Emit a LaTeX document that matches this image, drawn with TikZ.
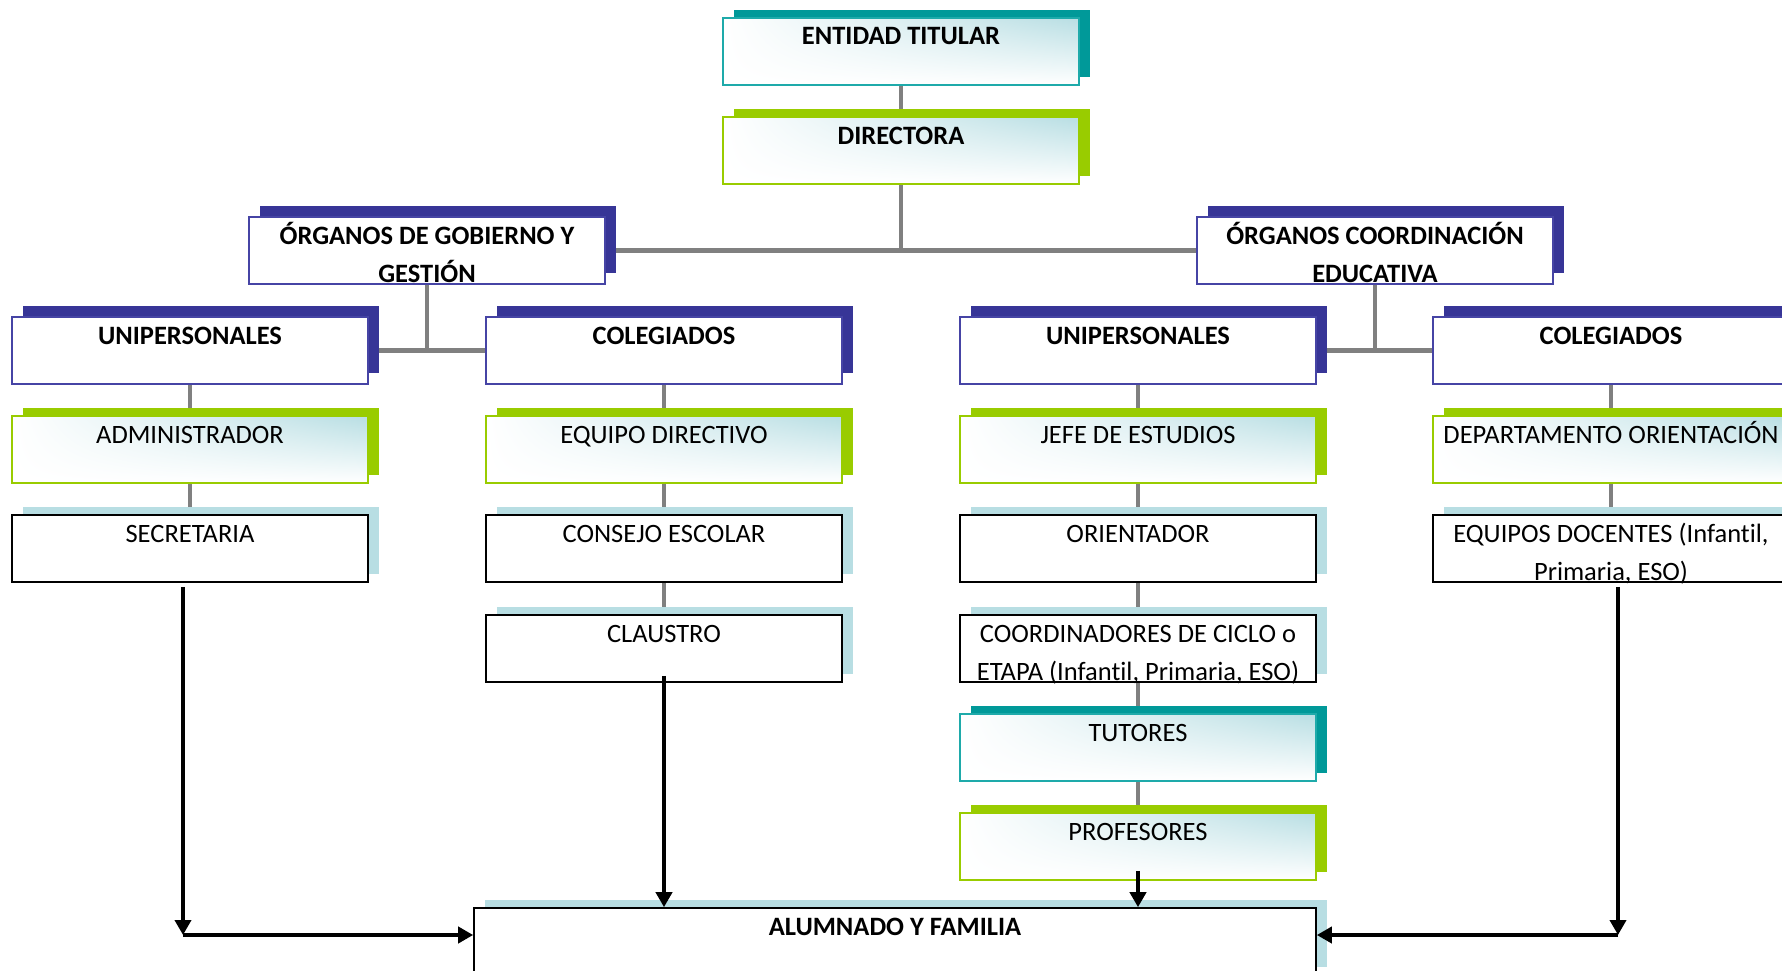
\documentclass[tikz,border=0pt]{standalone}
\usepackage{fontspec}
\setmainfont{Carlito}[Ligatures=NoCommon]
\usetikzlibrary{arrows.meta,shadows,shadings,calc}
\definecolor{navy}{RGB}{55,53,151}
\definecolor{navyb}{RGB}{70,68,165}
\definecolor{grn}{RGB}{153,204,0}
\definecolor{tealc}{RGB}{0,153,153}
\definecolor{tealb}{RGB}{30,170,170}
\definecolor{lb}{RGB}{184,222,227}
\definecolor{gline}{RGB}{128,128,128}
\pgfdeclarelayer{bg}\pgfsetlayers{bg,main}
\newcommand\twol[2]{\begin{tabular}[t]{@{}c@{}}#1\\#2\end{tabular}}
\tikzset{
  obx/.style={rectangle, minimum width=356pt, minimum height=67pt, inner sep=0pt, line width=1.6pt},
  navybox/.style={obx, draw=navyb, fill=white,
    general shadow={shadow xshift=11pt, shadow yshift=11pt, fill=navy}},
  greenbox/.style={obx, draw=grn, upper left=white, upper right=lb, lower left=white, lower right=white,
    general shadow={shadow xshift=11pt, shadow yshift=8pt, fill=grn}},
  tealbox/.style={obx, draw=tealb, upper left=white, upper right=lb, lower left=white, lower right=white,
    general shadow={shadow xshift=11pt, shadow yshift=8pt, fill=tealc}},
  lbbox/.style={obx, draw=black, fill=white,
    general shadow={shadow xshift=11pt, shadow yshift=8pt, fill=lb}},
  txt/.style={anchor=base, inner sep=0pt, font=\fontsize{26.5}{38}\selectfont},
  btxt/.style={txt, font=\fontsize{26.5}{38}\selectfont\bfseries},
  conn/.style={draw=gline, line width=4.6pt},
  arr/.style={draw=black, line width=4.6pt, -{Triangle[width=16pt,length=15pt]}}
}
\begin{document}
\begin{tikzpicture}[x=1pt,y=-1pt]
\path[use as bounding box, clip] (0,0) rectangle (1782,971);
% boxes
\node[tealbox]  (ent) at (901,51.5) {};
\node[greenbox] (dir) at (901,150.5) {};
\node[navybox]  (og)  at (427,250.5) {};
\node[navybox]  (oc)  at (1375,250.5) {};
\node[navybox]  (u1)  at (190,350.5) {};
\node[navybox]  (c1)  at (664,350.5) {};
\node[navybox]  (u2)  at (1138,350.5) {};
\node[navybox]  (c2)  at (1611,350.5) {};
\node[greenbox] (adm) at (190,449.5) {};
\node[greenbox] (eqd) at (664,449.5) {};
\node[greenbox] (jef) at (1138,449.5) {};
\node[greenbox] (dep) at (1611,449.5) {};
\node[lbbox]    (sec) at (190,548.5) {};
\node[lbbox]    (con) at (664,548.5) {};
\node[lbbox]    (ori) at (1138,548.5) {};
\node[lbbox]    (edo) at (1611,548.5) {};
\node[lbbox]    (cla) at (664,648.5) {};
\node[lbbox]    (coo) at (1138,648.5) {};
\node[tealbox]  (tut) at (1138,747.5) {};
\node[greenbox] (pro) at (1138,846.5) {};
\node[lbbox, minimum width=842pt] (alum) at (895,941.5) {};
% texts
\node[btxt] (ent-t) at (901,45) {ENTIDAD TITULAR};
\node[btxt] (dir-t) at (901,144) {DIRECTORA};
\node[btxt] (og-t) at (427,244) {\twol{ÓRGANOS DE GOBIERNO Y}{GESTIÓN}};
\node[btxt] (oc-t) at (1375,244) {\twol{ÓRGANOS COORDINACIÓN}{EDUCATIVA}};
\node[btxt] (u1-t) at (190,344) {UNIPERSONALES};
\node[btxt] (c1-t) at (664,344) {COLEGIADOS};
\node[btxt] (u2-t) at (1138,344) {UNIPERSONALES};
\node[btxt] (c2-t) at (1611,344) {COLEGIADOS};
\node[txt] (adm-t) at (190,443) {ADMINISTRADOR};
\node[txt] (eqd-t) at (664,443) {EQUIPO DIRECTIVO};
\node[txt] (jef-t) at (1138,443) {JEFE DE ESTUDIOS};
\node[txt] (dep-t) at (1611,443) {DEPARTAMENTO ORIENTACIÓN};
\node[txt] (sec-t) at (190,542) {SECRETARIA};
\node[txt] (con-t) at (664,542) {CONSEJO ESCOLAR};
\node[txt] (ori-t) at (1138,542) {ORIENTADOR};
\node[txt] (edo-t) at (1611,542) {\twol{EQUIPOS DOCENTES (Infantil,}{Primaria, ESO)}};
\node[txt] (cla-t) at (664,642) {CLAUSTRO};
\node[txt] (coo-t) at (1138,642) {\twol{COORDINADORES DE CICLO o}{ETAPA (Infantil, Primaria, ESO)}};
\node[txt] (tut-t) at (1138,741) {TUTORES};
\node[txt] (pro-t) at (1138,840) {PROFESORES};
\node[btxt] (alum-t) at (895,935) {ALUMNADO Y FAMILIA};
% gray connectors
\coordinate (j0) at (901,250.5);
\begin{pgfonlayer}{bg}
\draw[conn] (ent) -- (dir);
\draw[conn] (dir) -- (j0);
\draw[conn] (og) -- (oc);
\draw[conn] (og.south) -- (og.south |- u1.east);
\draw[conn] (u1) -- (c1);
\draw[conn] (oc.south) -- (oc.south |- u2.east);
\draw[conn] (u2) -- (c2);
\draw[conn] (u1) -- (adm);
\draw[conn] (adm) -- (sec);
\draw[conn] (c1) -- (eqd);
\draw[conn] (eqd) -- (con);
\draw[conn] (con) -- (cla);
\draw[conn] (u2) -- (jef);
\draw[conn] (jef) -- (ori);
\draw[conn] (ori) -- (coo);
\draw[conn] (coo) -- (tut);
\draw[conn] (tut) -- (pro);
\draw[conn] (c2) -- (dep);
\draw[conn] (dep) -- (edo);
\end{pgfonlayer}
% black arrows
\coordinate (cl) at (183,935);
\coordinate (cr) at (1618,935);
\draw[arr] ([xshift=-7pt,yshift=-4pt]sec.south) -- (cl);
\draw[arr] (cl) -- (alum.west |- cl);
\draw[arr] ([yshift=7pt]cla.south) -- (cla.south |- alum.north);
\draw[arr] ([yshift=10pt]pro.south) -- (pro.south |- alum.north);
\draw[arr] ([xshift=7pt,yshift=-4pt]edo.south) -- (cr);
\draw[arr] (cr) -- (alum.east |- cr);
\end{tikzpicture}
\end{document}
